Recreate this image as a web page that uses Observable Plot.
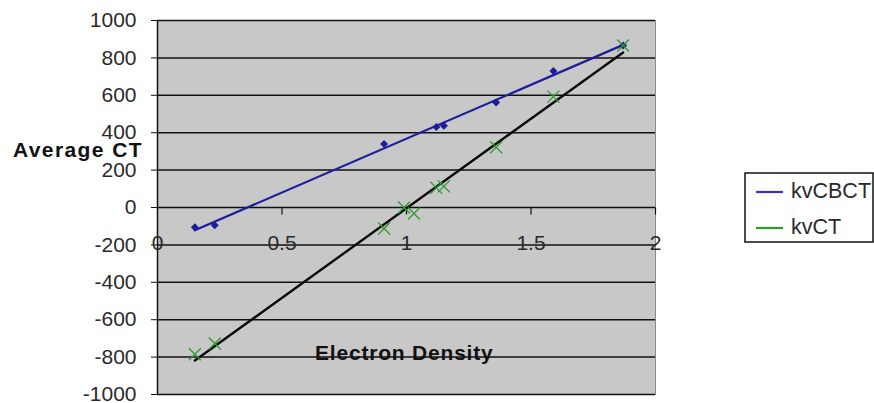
<!DOCTYPE html>
<html>
<head>
<meta charset="utf-8">
<script src="https://cdn.jsdelivr.net/npm/d3@7"></script>
<script src="https://cdn.jsdelivr.net/npm/@observablehq/plot@0.6"></script>
<style>
  html, body { margin: 0; padding: 0; background: #fff; }
  #chart { position: relative; width: 874px; height: 403px; }
  svg { font-family: "Liberation Sans", Arial, sans-serif; }
</style>
</head>
<body>
<div id="chart"></div>
<script>
// Data
const xCBCT = [0.15, 0.23, 0.91, 1.12, 1.15, 1.36, 1.59, 1.87];
const yCBCT = [-105, -95, 340, 430, 437, 562, 730, 866];
const xCT = [0.15, 0.23, 0.91, 0.99, 1.03, 1.12, 1.15, 1.36, 1.59, 1.87];
const yCT = [-785, -727, -112, 0, -32, 105, 113, 322, 593, 866];
const seriesNames = ["kvCBCT", "kvCT"];
const xTicks = [0, 0.5, 1, 1.5, 2];
const yTicks = [-1000, -800, -600, -400, -200, 0, 200, 400, 600, 800, 1000];
const xLabel = "Electron Density";
const yLabel = "Average CT";

const cbct = xCBCT.map((x, i) => ({x, y: yCBCT[i]}));
const ct = xCT.map((x, i) => ({x, y: yCT[i]}));

const blue = "#1e1e9a";
const green = "#2f9a2f";
const bg = "#c8c8c8";

const tickDown = {draw(ctx) { ctx.moveTo(0, 0); ctx.lineTo(0, 7); }};

const plot = Plot.plot({
  width: 874,
  height: 403,
  marginLeft: 157,
  marginTop: 20,
  marginRight: 219,
  marginBottom: 9,
  style: {fontFamily: "Liberation Sans, Arial, sans-serif", background: "white"},
  x: {domain: [0, 2], axis: null},
  y: {domain: [-1000, 1000], axis: null},
  marks: [
    Plot.frame({fill: bg, stroke: "#8a8a8a"}),
    Plot.gridY(yTicks, {stroke: "#111", strokeOpacity: 1, strokeWidth: 1.5}),
    Plot.ruleX([0], {stroke: "#111", strokeWidth: 1.5}),
    Plot.axisY(yTicks, {anchor: "left", tickSize: 6, tickPadding: 15, fontSize: 21, fill: "#2a2a2a", stroke: "#111", label: null, tickFormat: d => String(d)}),
    Plot.dot(xTicks.slice(1), {x: d => d, y: () => 0, symbol: tickDown, stroke: "#111", strokeWidth: 1.2}),
    Plot.text(xTicks, {x: d => d, y: () => 0, text: d => String(d), dy: 36, fontSize: 21, fill: "#2a2a2a"}),
    Plot.linearRegressionY(cbct, {x: "x", y: "y", stroke: blue, strokeWidth: 2.2, ci: 0}),
    Plot.linearRegressionY(ct, {x: "x", y: "y", stroke: "#0a0a0a", strokeWidth: 2.4, ci: 0}),
    Plot.dot(cbct, {x: "x", y: "y", symbol: "diamond2", fill: blue, r: 3.6}),
    Plot.dot(ct, {x: "x", y: "y", symbol: "times", stroke: green, strokeWidth: 1.3, r: 5.5})
  ]
});

document.getElementById("chart").appendChild(plot);

const svg = d3.select(plot);
svg.append("text").attr("x", 13).attr("y", 157).attr("text-anchor", "start")
  .attr("font-size", 21).attr("font-weight", "bold").attr("letter-spacing", 1.4)
  .attr("fill", "#111").text(yLabel);
svg.append("text").attr("x", 315).attr("y", 360).attr("text-anchor", "start")
  .attr("font-size", 21).attr("font-weight", "bold").attr("letter-spacing", 0.8)
  .attr("fill", "#111").text(xLabel);

// legend
const lg = svg.append("g").attr("text-anchor", "start");
lg.append("rect").attr("x", 745).attr("y", 173).attr("width", 128).attr("height", 69)
  .attr("fill", "white").attr("stroke", "#111").attr("stroke-width", 1.5);
[blue, green].forEach((c, i) => {
  const yy = 192 + i * 36;
  lg.append("line").attr("x1", 756).attr("x2", 783).attr("y1", yy).attr("y2", yy)
    .attr("stroke", c === blue ? "#3434b4" : "#22a022").attr("stroke-width", 2.2);
  lg.append("text").attr("x", 791).attr("y", yy + 6)
    .attr("font-size", 21.5).attr("fill", "#2a2a2a").text(seriesNames[i]);
});
</script>
</body>
</html>
